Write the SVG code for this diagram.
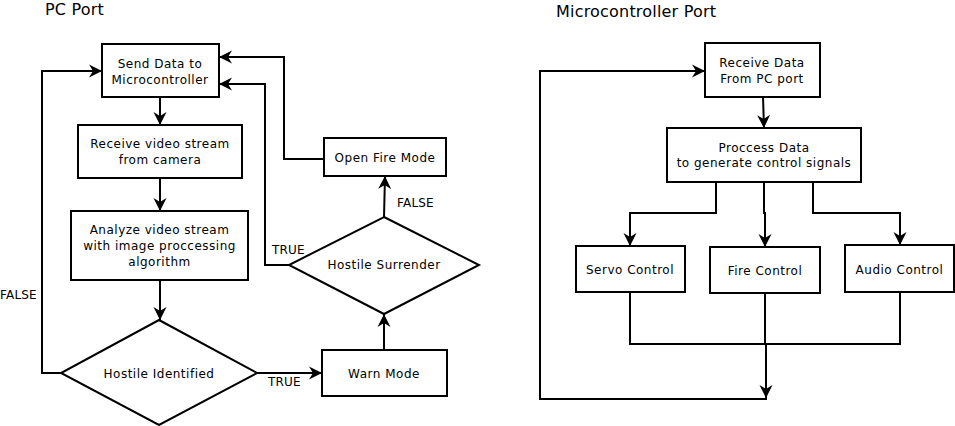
<svg xmlns="http://www.w3.org/2000/svg" width="955" height="426" viewBox="0 0 955 426">
<style>
.box{fill:#fff;stroke:#000;stroke-width:2}
.ln{fill:none;stroke:#000;stroke-width:2}
.arr{marker-end:url(#ah)}
text{font-family:"DejaVu Sans",sans-serif;font-size:12px;letter-spacing:0.5px;fill:#000;text-anchor:middle}
.title{font-size:16px;letter-spacing:0.2px;text-anchor:start}
.lbl{text-anchor:start;letter-spacing:0.2px}
</style>
<defs>
<marker id="ah" markerUnits="userSpaceOnUse" viewBox="-14 -8 15 16" markerWidth="15" markerHeight="16" refX="0" refY="0" orient="auto">
<path d="M0,0 L-13,-6.5 L-9,0 L-13,6.5 Z" fill="#000"/>
</marker>
</defs>
<rect width="955" height="426" fill="#fff"/>
<text class="title" x="45" y="15">PC Port</text>
<text class="title" x="556" y="17">Microcontroller Port</text>

<g id="connectors">
<path class="ln arr" d="M160,97 L160,125"/>
<path class="ln arr" d="M160,178 L160,211"/>
<path class="ln arr" d="M160,280 L160,320"/>
<path class="ln arr" d="M61,373 L42,373 L42,71 L102,71"/>
<path class="ln arr" d="M257,373 L322,373"/>
<path class="ln arr" d="M384,350 L384,314"/>
<path class="ln arr" d="M384,217 L385,176"/>
<path class="ln arr" d="M289,265 L265,265 L265,84 L219,84"/>
<path class="ln arr" d="M324,159 L284,159 L284,57 L219,57"/>
<path class="ln arr" d="M763,97 L764,128"/>
<path class="ln arr" d="M716,182 L716,213 L630,213 L630,246"/>
<path class="ln arr" d="M764,182 L764,213 L765,213 L765,247"/>
<path class="ln arr" d="M813,182 L813,213 L900,213 L900,245"/>
<path class="ln" d="M630,292 L630,344 L900,344 L900,292"/>
<path class="ln arr" d="M765,293 L765,344 L766,344 L766,398"/>
<path class="ln arr" d="M767,399 L540,399 L540,71 L705,71"/>
<text class="lbl" x="397" y="207">FALSE</text>
<text class="lbl" x="272" y="254">TRUE</text>
<text class="lbl" x="268" y="386">TRUE</text>
<text class="lbl" x="0" y="299">FALSE</text>
</g>

<g id="send-data">
<rect class="box" x="102" y="44" width="117" height="53"/>
<text x="160" y="68">Send Data to</text>
<text x="160" y="84">Microcontroller</text>
</g>
<g id="receive-video">
<rect class="box" x="78" y="125" width="164" height="53"/>
<text x="160" y="148">Receive video stream</text>
<text x="160" y="164">from camera</text>
</g>
<g id="analyze">
<rect class="box" x="71" y="211" width="177" height="69"/>
<text x="159.5" y="234">Analyze video stream</text>
<text x="159.5" y="250">with image proccessing</text>
<text x="159.5" y="266">algorithm</text>
</g>
<g id="hostile-identified">
<polygon class="box" points="159,320 257,373 159,425 61,373"/>
<text x="159" y="378">Hostile Identified</text>
</g>
<g id="warn-mode">
<rect class="box" x="322" y="350" width="125" height="46"/>
<text x="384" y="378">Warn Mode</text>
</g>
<g id="hostile-surrender">
<polygon class="box" points="384,217 479,265 384,314 289,265"/>
<text x="384" y="269">Hostile Surrender</text>
</g>
<g id="open-fire">
<rect class="box" x="324" y="138" width="122" height="38"/>
<text x="385" y="162">Open Fire Mode</text>
</g>

<g id="receive-data">
<rect class="box" x="705" y="43" width="115" height="54"/>
<text x="762" y="67">Receive Data</text>
<text x="762" y="83">From PC port</text>
</g>
<g id="process-data">
<rect class="box" x="667" y="128" width="194" height="54"/>
<text x="764" y="152">Proccess Data</text>
<text x="764" y="167">to generate control signals</text>
</g>
<g id="servo-control">
<rect class="box" x="576" y="246" width="109" height="46"/>
<text x="630" y="274">Servo Control</text>
</g>
<g id="fire-control">
<rect class="box" x="710" y="247" width="110" height="46"/>
<text x="765" y="275">Fire Control</text>
</g>
<g id="audio-control">
<rect class="box" x="845" y="245" width="109" height="47"/>
<text x="899.5" y="274">Audio Control</text>
</g>
</svg>
